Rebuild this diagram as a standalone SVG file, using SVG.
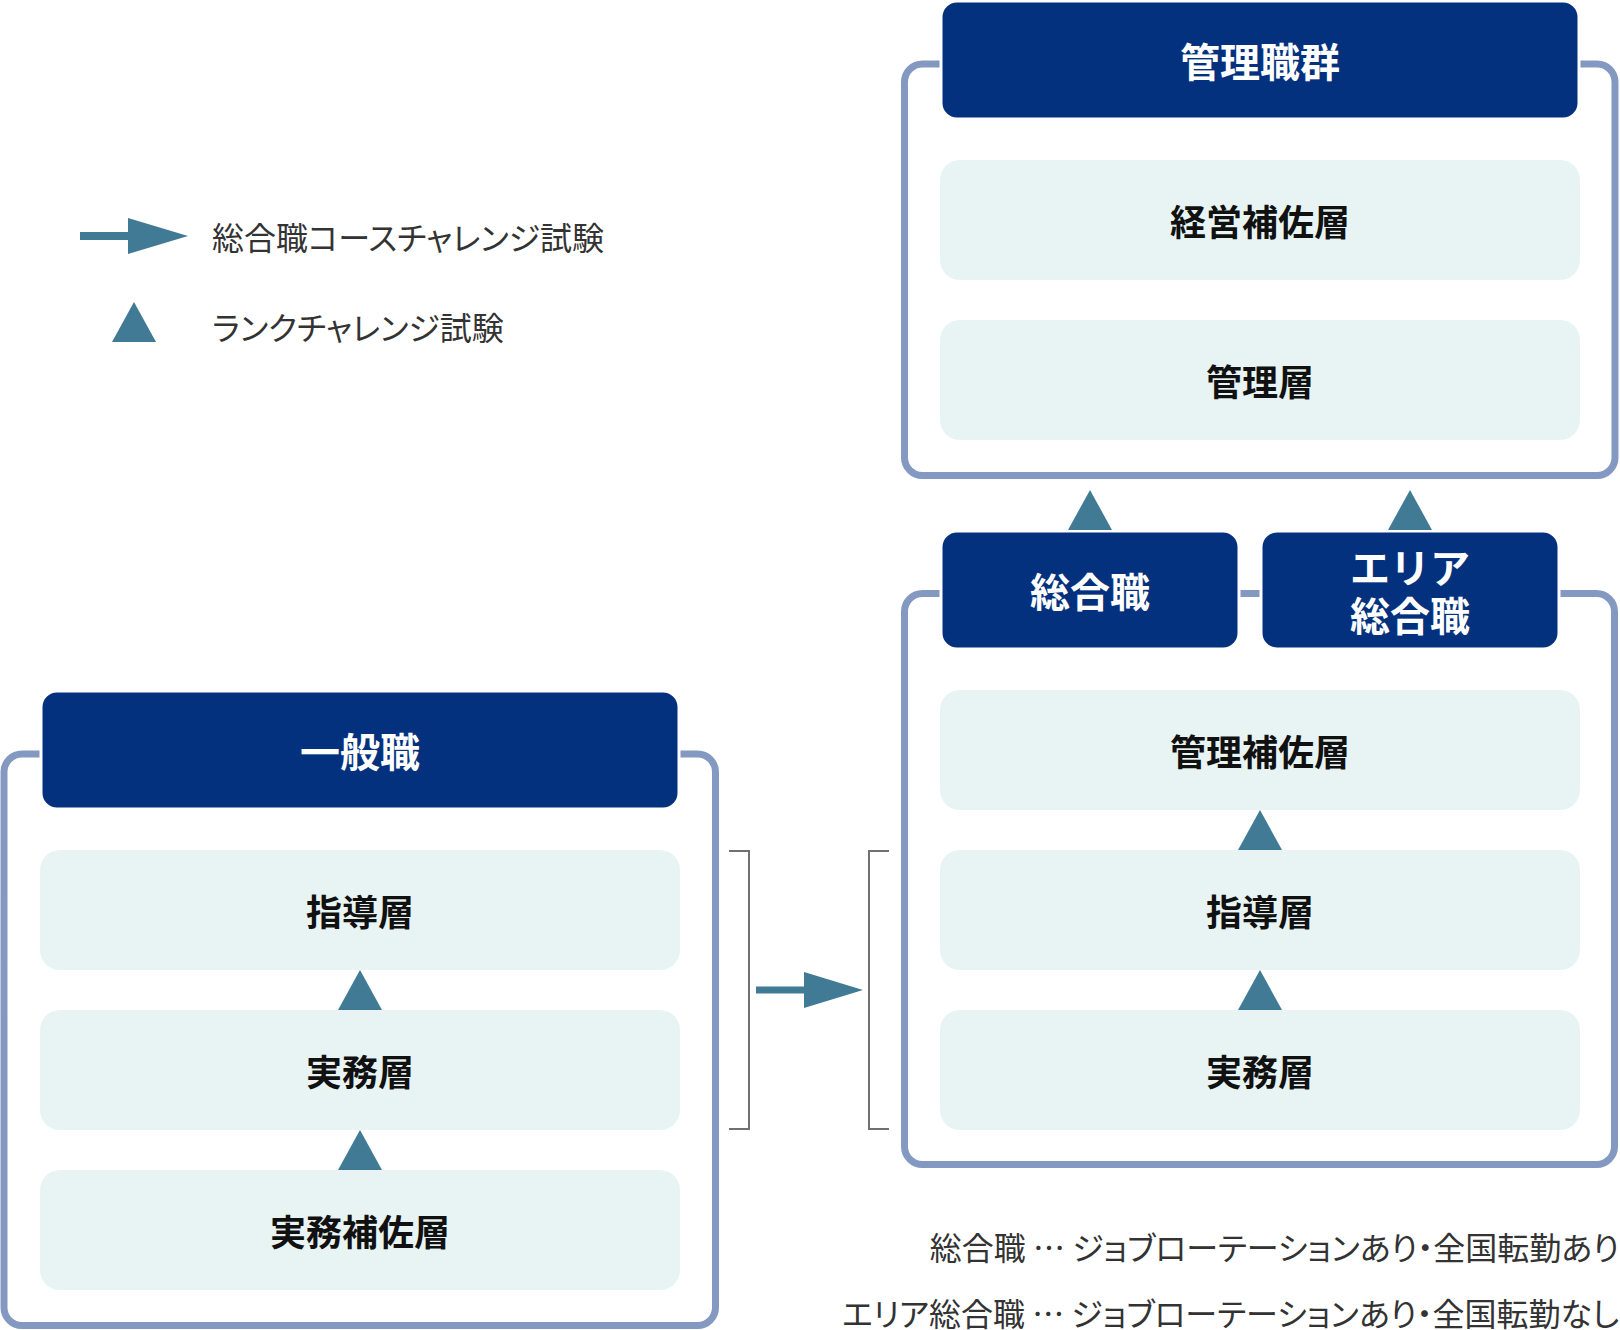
<svg xmlns="http://www.w3.org/2000/svg" width="1620" height="1330" viewBox="0 0 1620 1330">
<style>
.frame{fill:none;stroke:#8399c1;stroke-width:7}
.head{fill:#04317e;stroke:#fff;stroke-width:3}
.layer{fill:#e8f4f4}
.tri{fill:#417a94}
.ht{font-family:"Noto Sans CJK JP","Noto Sans",sans-serif;font-weight:700;font-size:40px;fill:#fff;text-anchor:middle;dominant-baseline:central}
.lt{font-family:"Noto Sans CJK JP","Noto Sans",sans-serif;font-weight:700;font-size:36px;fill:#111;text-anchor:middle;dominant-baseline:central}
.leg{font-family:"Noto Sans CJK JP","Noto Sans",sans-serif;font-weight:400;font-size:32px;fill:#333;dominant-baseline:central;font-feature-settings:"palt"}
.note{font-family:"Noto Sans CJK JP","Noto Sans",sans-serif;font-weight:400;font-size:32px;fill:#333;text-anchor:end;dominant-baseline:central;font-feature-settings:"palt"}
.brk{fill:none;stroke:#707070;stroke-width:2}
</style>

<!-- legend -->
<g id="legend">
  <rect x="80" y="232" width="49" height="8" class="tri"/>
  <polygon points="128,218 188,236 128,254" class="tri"/>
  <text x="212" y="236" class="leg">総合職コースチャレンジ試験</text>
  <polygon points="134,302 156,342 112,342" class="tri"/>
  <text x="212" y="326" class="leg">ランクチャレンジ試験</text>
</g>

<!-- frames -->
<g id="frames">
  <rect x="4" y="754" width="711.5" height="571.5" rx="18" class="frame"/>
  <rect x="904.5" y="64" width="710.5" height="411.5" rx="18" class="frame"/>
  <rect x="904.5" y="593.5" width="710" height="571" rx="18" class="frame"/>
</g>

<!-- general group -->
<g id="ippan">
  <rect x="41" y="691" width="638" height="118" rx="16" class="head"/>
  <text x="360" y="750" class="ht">一般職</text>
</g>
<g id="ippan-shido">
  <rect x="40" y="850" width="640" height="120" rx="20" class="layer"/>
  <text x="360" y="910" class="lt">指導層</text>
</g>
<g id="ippan-jitsumu">
  <rect x="40" y="1010" width="640" height="120" rx="20" class="layer"/>
  <text x="360" y="1070" class="lt">実務層</text>
</g>
<g id="ippan-hosa">
  <rect x="40" y="1170" width="640" height="120" rx="20" class="layer"/>
  <text x="360" y="1230" class="lt">実務補佐層</text>
</g>

<!-- management group -->
<g id="kanri">
  <rect x="941" y="1" width="638" height="118" rx="16" class="head"/>
  <text x="1260" y="60" class="ht">管理職群</text>
</g>
<g id="keiei-hosa">
  <rect x="940" y="160" width="640" height="120" rx="20" class="layer"/>
  <text x="1260" y="220" class="lt">経営補佐層</text>
</g>
<g id="kanri-so">
  <rect x="940" y="320" width="640" height="120" rx="20" class="layer"/>
  <text x="1260" y="380" class="lt">管理層</text>
</g>

<!-- sogo group -->
<g id="sogo">
  <rect x="941" y="531" width="298" height="118" rx="16" class="head"/>
  <text x="1090" y="590" class="ht">総合職</text>
</g>
<g id="area-sogo">
  <rect x="1261" y="531" width="298" height="118" rx="16" class="head"/>
  <text x="1410" y="566" class="ht">エリア</text>
  <text x="1410" y="614" class="ht">総合職</text>
</g>
<g id="kanri-hosa">
  <rect x="940" y="690" width="640" height="120" rx="20" class="layer"/>
  <text x="1260" y="750" class="lt">管理補佐層</text>
</g>
<g id="sogo-shido">
  <rect x="940" y="850" width="640" height="120" rx="20" class="layer"/>
  <text x="1260" y="910" class="lt">指導層</text>
</g>
<g id="sogo-jitsumu">
  <rect x="940" y="1010" width="640" height="120" rx="20" class="layer"/>
  <text x="1260" y="1070" class="lt">実務層</text>
</g>

<!-- connectors -->
<g id="connectors">
  <polygon points="360,970 382,1010 338,1010" class="tri"/>
  <polygon points="360,1130 382,1170 338,1170" class="tri"/>
  <polygon points="1260,810 1282,850 1238,850" class="tri"/>
  <polygon points="1260,970 1282,1010 1238,1010" class="tri"/>
  <polygon points="1090,490 1112,530 1068,530" class="tri"/>
  <polygon points="1410,490 1432,530 1388,530" class="tri"/>
  <polyline points="729,851 749,851 749,1129 729,1129" class="brk"/>
  <polyline points="889,851 869,851 869,1129 889,1129" class="brk"/>
  <rect x="756" y="986.5" width="49" height="7" class="tri"/>
  <polygon points="804,972 863,990 804,1008" class="tri"/>
</g>

<!-- notes -->
<g id="notes">
  <text x="1619" y="1246" class="note">総合職 … ジョブローテーションあり・全国転勤あり</text>
  <text x="1619" y="1312" class="note">エリア総合職 … ジョブローテーションあり・全国転勤なし</text>
</g>
</svg>
